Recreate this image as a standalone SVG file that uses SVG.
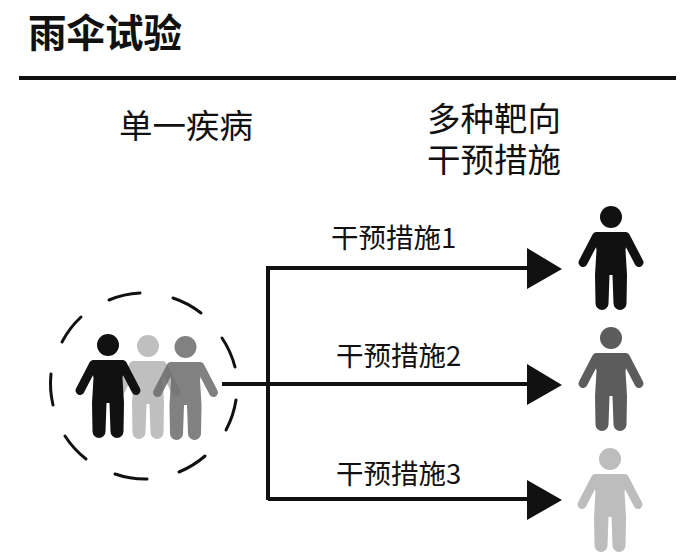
<svg xmlns="http://www.w3.org/2000/svg" width="690" height="558" viewBox="0 0 690 558">
<style>
text{font-family:"Noto Sans CJK SC","Noto Sans",sans-serif;fill:#111}
.h{font-size:33.500px}
.l{font-size:27.500px}
.line{fill:none;stroke:#111;stroke-width:4}
.dash{fill:none;stroke:#111;stroke-width:3;stroke-linecap:round}
.arrow{fill:#111}
</style>
<defs>
<g id="person">
<circle cx="0" cy="0" r="11"/>
<path d="M-15 15H15L17 19L14.500 33L16 58L15.500 86.500A6.500 6.500 0 0 1 2.500 86.500L1.500 58H-1.500L-2.500 86.500A6.500 6.500 0 0 1 -15.500 86.500L-16 58L-14.500 33L-17 19Z"/>
<path d="M-14.500 19.500L-28 45.500M14.500 19.500L28 45.500" fill="none" stroke="currentColor" stroke-width="9" stroke-linecap="round"/>
</g>
</defs>
<rect width="690" height="558" fill="#fff"/>
<g id="title"><text x="28" y="47" font-weight="700" font-size="38.500">雨伞试验</text><path d="M19 78H676" stroke="#111" stroke-width="4"/></g>
<g id="head-left"><text x="119" y="138" class="h">单一疾病</text></g>
<g id="head-right"><text x="427" y="131" class="h">多种靶向</text><text x="427" y="172" class="h">干预措施</text></g>
<g id="connectors">
<path class="line" d="M222 384H530M268 500V268H530M268 499H530"/>
<path class="arrow" d="M527 248L562 269L527 289Z"/>
<path class="arrow" d="M527 364L562 385L527 405Z"/>
<path class="arrow" d="M527 480L562 500L527 520Z"/>
</g>
<g id="group-ring">
<path class="dash" d="M109 300A93 93 0 0 1 140 293M173 298A93 93 0 0 1 201 313M222 338A93 93 0 0 1 235 367M236 400A93 93 0 0 1 226 430M205 456A93 93 0 0 1 179 472M147 479A93 93 0 0 1 115 474M86 459A93 93 0 0 1 65 436M53 405A93 93 0 0 1 51 374M62 342A93 93 0 0 1 81 317"/>
</g>
<g id="person-light"><use href="#person" x="148" y="346" fill="#bfbfbf" color="#bfbfbf"/></g>
<g id="person-mid" opacity=".85"><use href="#person" x="185.500" y="347" fill="#6a6c6a" color="#6a6c6a"/></g>
<g id="person-black"><use href="#person" x="108" y="345" fill="#111" color="#111"/></g>
<g id="label-1"><text x="331" y="248" class="l">干预措施1</text></g>
<g id="label-2"><text x="336" y="366" class="l">干预措施2</text></g>
<g id="label-3"><text x="336" y="484" class="l">干预措施3</text></g>
<g id="outcome-1"><use href="#person" x="611" y="217" fill="#111" color="#111"/></g>
<g id="outcome-2"><use href="#person" x="611" y="338" fill="#5c5c5c" color="#5c5c5c"/></g>
<g id="outcome-3"><use href="#person" x="610" y="459" fill="#bdbdbd" color="#bdbdbd"/></g>
</svg>
